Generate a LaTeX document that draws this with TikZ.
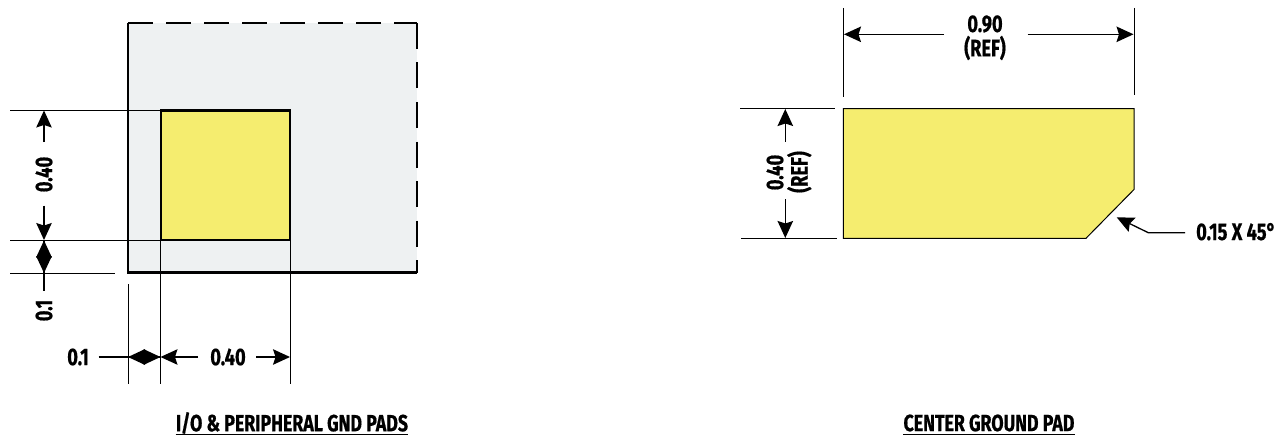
\documentclass[tikz,border=0pt]{standalone}
\usepackage{fontspec}
\setmainfont[FakeStretch=0.76,BoldFeatures={FakeBold=0.6}]{Fira Sans}
\usetikzlibrary{arrows.meta}
\definecolor{padyellow}{HTML}{F5ED6F}
\definecolor{pkggray}{HTML}{EEF1F2}
\tikzset{
  ext/.style={line width=1pt,black},
  tip/.tip={Stealth[length=17pt,width=15.5pt,inset=2.5pt]},
  diam/.tip={Stealth[length=17pt,width=15.5pt,inset=0pt]},
  dimline/.style={line width=1.3pt,black,-tip},
  diamline/.style={line width=1.3pt,black,-diam},
  plainline/.style={line width=1.3pt,black},
  lbl/.style={font=\bfseries\fontsize{24}{25}\selectfont,inner sep=0pt,align=center},
  ttl/.style={font=\bfseries\fontsize{23.4}{25}\selectfont,inner sep=0pt},
  thick box/.style={line width=2.2pt,black}
}
\begin{document}
\begin{tikzpicture}[x=1pt,y=-1pt]
\useasboundingbox (0,0) rectangle (1286,436);
% --- left figure
\fill[pkggray] (128,23) rectangle (417,272.5);
\draw[thick box,line cap=butt] (128,23) -- (128,272.5) -- (417,272.5);
\draw[thick box,dash pattern=on 25pt off 13pt] (128,23) -- (417,23);
\draw[thick box,dash pattern=on 26pt off 13.5pt] (417,23) -- (417,272.5);
\draw[thick box,fill=padyellow] (161,110.5) rectangle (290,240);
% extension lines
\coordinate (L1) at (10,110); \coordinate (L1e) at (161,110);
\coordinate (L2) at (10,240); \coordinate (L2e) at (161,240);
\coordinate (L3) at (10,273); \coordinate (L3e) at (115,273);
\coordinate (V1) at (128,284); \coordinate (V1e) at (128,384);
\coordinate (V2) at (160.5,240); \coordinate (V2e) at (160.5,384);
\coordinate (V3) at (290,240); \coordinate (V3e) at (290,384);
\draw[ext] (L1) -- (L1e);
\draw[ext] (L2) -- (L2e);
\draw[ext] (L3) -- (L3e);
\draw[ext] (V1) -- (V1e);
\draw[ext] (V2) -- (V2e);
\draw[ext] (V3) -- (V3e);
% vertical dimensions
\node[lbl,rotate=90] (v40) at (44,174.5) {0.40};
\node[lbl,rotate=90] (v01) at (44,310.5) {0.1};
\coordinate (a1t) at (44,110.5); \coordinate (a1b) at (44,142);
\coordinate (a2t) at (44,205.5); \coordinate (a2b) at (44,240);
\coordinate (a3t) at (44,240.5); \coordinate (a3b) at (44,273);
\coordinate (a3e) at (44,291);
\draw[dimline] (a1b) -- (a1t);
\draw[dimline] (a2t) -- (a2b);
\draw[diamline] (a3b) -- (a3t);
\draw[diamline] (a3t) -- (a3b);
\draw[plainline] (a3b) -- (a3e);
% horizontal dimensions
\node[lbl] (h01) at (78,357) {0.1};
\node[lbl] (h40) at (228,357) {0.40};
\coordinate (b0) at (98.5,357); \coordinate (b1) at (128,357);
\coordinate (b2) at (160.5,357); \coordinate (b3) at (198,357);
\coordinate (b4) at (256,357); \coordinate (b5) at (290,357);
\draw[plainline] (b0) -- (b1);
\draw[diamline] (b1) -- (b2);
\draw[diamline] (b2) -- (b1);
\draw[dimline] (b3) -- (b2);
\draw[dimline] (b4) -- (b5);
\node[ttl] (t1) at (292,423) {I/O \& PERIPHERAL GND PADS};
\draw[line width=1pt] (t1.west |- 0,434) -- (t1.east |- 0,434);
% --- right figure
\draw[line width=1pt,fill=padyellow] (843.3,108.5) -- (1134,108.5) -- (1134,189.5) -- (1086,238.3) -- (843.3,238.3) -- cycle;
\coordinate (R1) at (843.3,8); \coordinate (R1e) at (843.3,97);
\coordinate (R2) at (1134,8); \coordinate (R2e) at (1134,95);
\coordinate (R3) at (740,108.5); \coordinate (R3e) at (834.7,108.5);
\coordinate (R4) at (741,238); \coordinate (R4e) at (836.7,238);
\draw[ext] (R1) -- (R1e);
\draw[ext] (R2) -- (R2e);
\draw[ext] (R3) -- (R3e);
\draw[ext] (R4) -- (R4e);
\node[lbl] (r90) at (985,24) {0.90};
\node[lbl] (rref) at (985,48) {(REF)};
\coordinate (c1) at (844,34.3); \coordinate (c2) at (944,34.3);
\coordinate (c3) at (1027.7,34.3); \coordinate (c4) at (1133.5,34.3);
\draw[dimline] (c2) -- (c1);
\draw[dimline] (c3) -- (c4);
\node[lbl,rotate=90] (s40) at (775,172.5) {0.40};
\node[lbl,rotate=90] (sref) at (799.3,172) {(REF)};
\coordinate (d1) at (785.3,109); \coordinate (d2) at (785.3,141.7);
\coordinate (d3) at (785.3,199.3); \coordinate (d4) at (785.3,238);
\draw[dimline] (d2) -- (d1);
\draw[dimline] (d3) -- (d4);
\node[lbl,anchor=west] (cham) at (1196,231.7) {0.15 X 45°};
\coordinate (e1) at (1185,232.7); \coordinate (e2) at (1148.3,232.7); \coordinate (e3) at (1116.7,217.3);
\draw[dimline] (e1) -- (e2) -- (e3);
\node[ttl] (t2) at (989,423) {CENTER GROUND PAD};
\draw[line width=1pt] (t2.west |- 0,434) -- (t2.east |- 0,434);
\end{tikzpicture}
\end{document}
